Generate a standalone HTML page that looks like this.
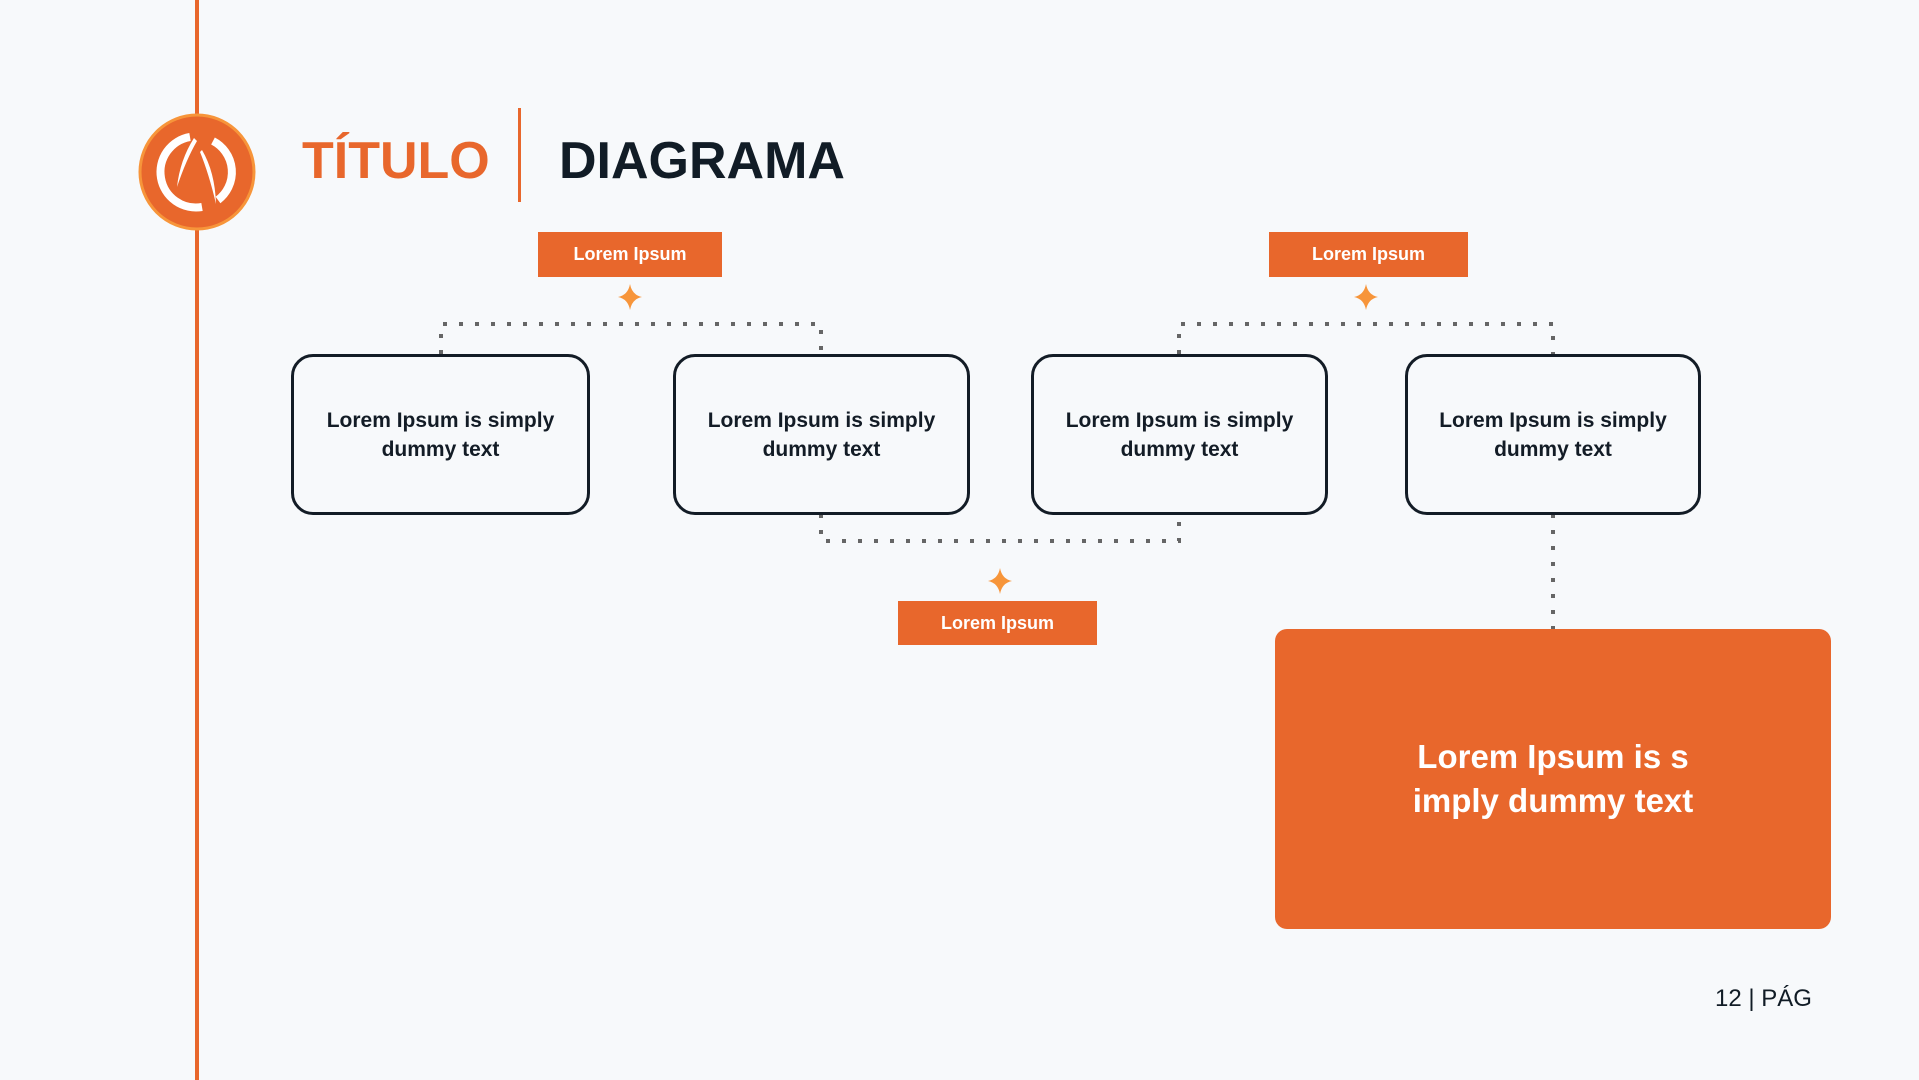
<!DOCTYPE html>
<html><head><meta charset="utf-8"><style>
html,body{margin:0;padding:0;}
body{width:1919px;height:1080px;background:#f7f9fb;overflow:hidden;position:relative;font-family:"Liberation Sans",sans-serif;}
.t{position:absolute;white-space:nowrap;font-weight:bold;}
.lbl{position:absolute;background:#e8672c;color:#fff;font-weight:bold;font-size:18px;display:flex;align-items:center;justify-content:center;}
.box{position:absolute;border:3px solid #131c26;border-radius:22px;box-sizing:border-box;display:flex;align-items:center;justify-content:center;text-align:center;font-weight:bold;font-size:21px;line-height:29px;color:#131c26;}
</style></head><body>
<svg width="1919" height="1080" style="position:absolute;left:0;top:0">
<rect x="195" y="0" width="4" height="1080" fill="#e8672c"/>
<circle cx="197" cy="172" r="57" fill="#e8672c" stroke="#f7953a" stroke-width="3"/>
<path d="M190 137 A35 35 0 0 0 202 207" fill="none" stroke="#fff" stroke-width="8"/>
<path d="M213 141 A35 35 0 0 1 218 200" fill="none" stroke="#fff" stroke-width="8"/>
<path d="M194 138 Q180 160 177 187 Q186 160 197 141 Z" fill="#fff"/>
<path d="M202 150 Q215 172 216 204 Q209 174 200 152 Z" fill="#fff"/>
<rect x="518" y="108" width="3" height="94" fill="#e8672c"/>
<g fill="none" stroke="#666" stroke-width="4" stroke-dasharray="4 12">
<path d="M441 354 V324 H821 V354"/>
<path d="M1179 354 V324 H1553 V354"/>
<path d="M821 514 V541 H1179 V514"/>
<path d="M1553 514 V629"/>
</g>
<g fill="#f7953a">
<path d="M630 284 Q632 295 642 297 Q632 299 630 310 Q628 299 618 297 Q628 295 630 284Z"/>
<path d="M1366 284 Q1368 295 1378 297 Q1368 299 1366 310 Q1364 299 1354 297 Q1364 295 1366 284Z"/>
<path d="M1000 568 Q1002 579 1012 581 Q1002 583 1000 594 Q998 583 988 581 Q998 579 1000 568Z"/>
</g>
<rect x="1275" y="629" width="556" height="300" rx="12" fill="#e8672c"/>
</svg>
<div class="t" style="left:302px;top:131px;font-size:52px;color:#e8672c;">TÍTULO</div>
<div class="t" style="left:559px;top:131px;font-size:52px;color:#111c26;">DIAGRAMA</div>
<div class="lbl" style="left:538px;top:232px;width:184px;height:45px;">Lorem Ipsum</div>
<div class="lbl" style="left:1269px;top:232px;width:199px;height:45px;">Lorem Ipsum</div>
<div class="lbl" style="left:898px;top:601px;width:199px;height:44px;">Lorem Ipsum</div>
<div class="box" style="left:291px;top:354px;width:299px;height:161px;">Lorem Ipsum is simply<br>dummy text</div>
<div class="box" style="left:673px;top:354px;width:297px;height:161px;">Lorem Ipsum is simply<br>dummy text</div>
<div class="box" style="left:1031px;top:354px;width:297px;height:161px;">Lorem Ipsum is simply<br>dummy text</div>
<div class="box" style="left:1405px;top:354px;width:296px;height:161px;">Lorem Ipsum is simply<br>dummy text</div>
<div class="t" style="left:1275px;top:735px;width:556px;text-align:center;font-size:33px;line-height:44px;color:#fff;">Lorem Ipsum is s<br>imply dummy text</div>
<div class="t" style="left:1715px;top:985px;font-size:24px;font-weight:normal;color:#111c26;">12 | PÁG</div>
</body></html>
